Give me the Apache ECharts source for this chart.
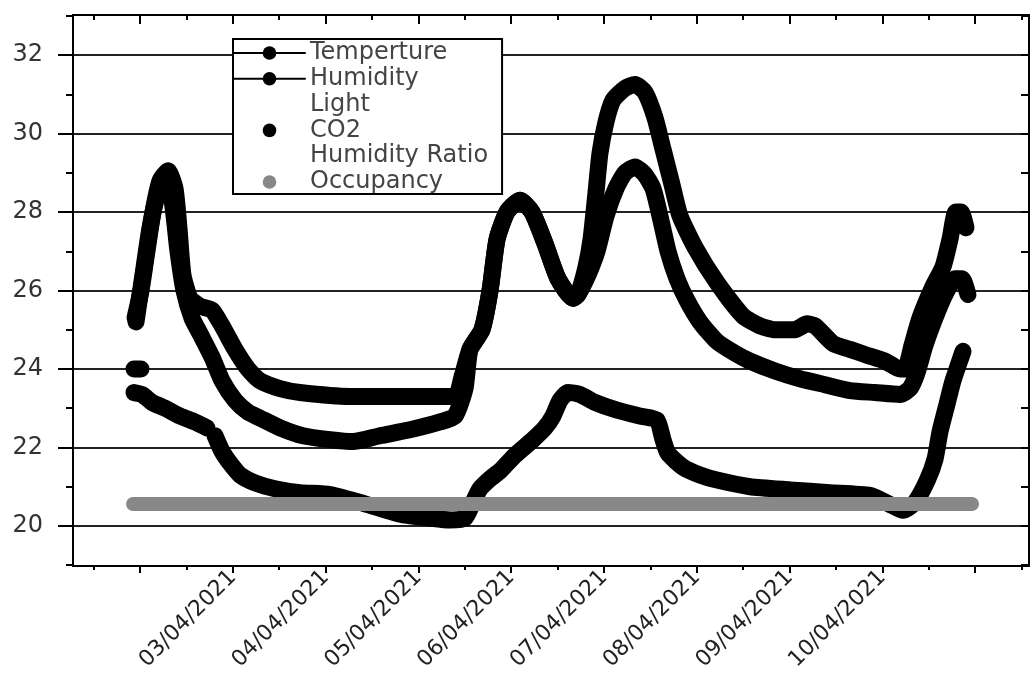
<!DOCTYPE html>
<html>
<head>
<meta charset="utf-8">
<script src="https://cdn.jsdelivr.net/npm/echarts@6/dist/echarts.min.js"></script>
<style>
html,body{margin:0;padding:0;background:#fff;}
#chart{width:1032px;height:681px;}
</style>
</head>
<body>
<div id="chart"></div>
<script>
// x values are days from the first major tick
const xLabels = ['03/04/2021','04/04/2021','05/04/2021','06/04/2021','07/04/2021','08/04/2021','09/04/2021','10/04/2021'];
const xMajorTicks = [0,1,2,3,4,5,6,7,8,9];
const xMinorTicks = [-0.5,0.5,1.5,2.5,3.5,4.5,5.5,6.5,7.5,8.5,9.5];
const xLabelTicks = [1,2,3,4,5,6,7,8];
const yMajorTicks = [20,22,24,26,28,30,32];
const yMinorTicks = [19,21,23,25,27,29,31,33];
const yAllTicks = [19,20,21,22,23,24,25,26,27,28,29,30,31,32,33];

const temperture = [
 [-0.054,25.3],[0.011,26.0],[0.075,27.0],[0.140,28.0],[0.216,28.8],[0.302,29.05],[0.377,28.6],[0.420,27.6],
 [0.463,26.4],[0.539,25.8],[0.647,25.6],[0.776,25.5],[0.884,25.1],[1.024,24.5],[1.164,24.0],[1.293,23.7],
 [1.509,23.5],[1.724,23.4],
 [2.263,23.3],[2.802,23.3],[3.394,23.3],[3.470,23.8],[3.556,24.5],[3.685,25.0],[3.772,26.0],[3.847,27.3],
 [3.955,28.0],[4.095,28.3],[4.224,28.0],[4.364,27.2],[4.504,26.3],[4.666,25.8],[4.720,25.9],[4.806,26.6],
 [4.860,27.3],[4.914,28.5],[4.957,29.5],[5.022,30.3],[5.097,30.85],[5.226,31.15],[5.334,31.25],[5.442,31.05],
 [5.550,30.4],[5.636,29.6],[5.733,28.7],[5.819,27.9],[5.981,27.1],[6.218,26.2],[6.498,25.35],[6.681,25.1],
 [6.843,25.0],[7.058,25.0],[7.188,25.15],[7.274,25.1],[7.468,24.65],[7.651,24.5],[7.834,24.35],[8.028,24.2],
 [8.190,24.0],[8.244,24.0],[8.319,24.6],[8.405,25.3],[8.545,26.1],[8.653,26.6],[8.728,27.3],[8.793,28.0],
 [8.847,28.0],[8.901,27.6]
];
const humidity = [
 [-0.043,25.2],[0.032,26.4],[0.108,27.6],[0.194,28.5],[0.269,28.8],[0.345,28.3],[0.409,27.0],[0.474,26.0],
 [0.560,25.3],[0.647,24.9],
 [0.776,24.3],[0.884,23.7],[1.024,23.2],[1.164,22.9],[1.293,22.75],[1.509,22.5],[1.756,22.3],[2.047,22.2],
 [2.295,22.15],[2.586,22.3],[2.909,22.45],[3.233,22.65],[3.394,22.8],[3.502,23.5],[3.556,24.5],[3.685,25.0],
 [3.772,26.0],[3.847,27.3],[3.955,28.0],[4.095,28.3],[4.224,28.0],[4.364,27.2],[4.504,26.3],[4.666,25.8],
 [4.720,25.9],[4.828,26.4],[4.925,27.0],[5.022,27.9],[5.129,28.6],[5.226,29.0],[5.334,29.15],[5.442,28.95],
 [5.528,28.6],[5.603,27.9],[5.690,27.0],[5.787,26.3],[5.894,25.75],[6.034,25.2],[6.218,24.7],[6.412,24.4],
 [6.573,24.2],[6.843,23.95],[7.112,23.75],[7.381,23.6],[7.651,23.45],[7.920,23.4],[8.190,23.35],[8.297,23.5],
 [8.373,23.9],[8.459,24.6],[8.567,25.3],[8.675,25.9],[8.782,26.3],[8.858,26.3],[8.922,25.9]
];
const light = [];
const co2 = [
 [-0.065,24.0],[0.011,24.0],[0.02,null],
 [-0.065,23.4],[0.022,23.35],[0.129,23.15],[0.269,23.0],[0.431,22.8],[0.593,22.65],[0.722,22.5],[0.76,null],
 [0.808,22.3],[0.884,21.9],[0.970,21.6],[1.078,21.3],[1.239,21.1],[1.455,20.95],[1.724,20.85],[2.047,20.8],
 [2.371,20.6],[2.802,20.3],[3.125,20.2],[3.341,20.15],[3.502,20.2],[3.578,20.55],[3.664,20.95],[3.772,21.2],
 [3.879,21.4],[4.041,21.8],[4.235,22.2],[4.364,22.5],[4.450,22.8],[4.526,23.2],[4.612,23.4],[4.741,23.35],
 [4.903,23.15],[5.140,22.95],[5.388,22.8],[5.571,22.7],[5.636,22.2],[5.690,21.85],[5.851,21.5],[6.034,21.3],
 [6.218,21.17],[6.573,21.0],[7.004,20.92],[7.435,20.85],[7.866,20.78],[8.082,20.55],[8.222,20.4],[8.351,20.6],
 [8.481,21.15],[8.567,21.7],[8.621,22.4],[8.696,23.1],[8.761,23.7],[8.869,24.45]
];
const humidityRatio = [];
const occupancy = [
 [-0.075,20.56],[1,20.56],[2,20.56],[3,20.56],[4,20.56],[5,20.56],[6,20.56],[7,20.56],[8,20.56],[8.966,20.56]
];

const XMIN = -0.722, XMAX = 9.58, YMIN = 18.98, YMAX = 33.02;
const FONT = 'DejaVu Sans';

const chart = echarts.init(document.getElementById('chart'));
const black = '#000';
function xAx(pos, ticks, len, inside, extra) {
  return Object.assign({
    type: 'value', min: XMIN, max: XMAX, position: pos,
    axisLine: {show: true, onZero: false, lineStyle: {color: black, width: 2}},
    axisTick: {show: true, customValues: ticks, length: len, inside: inside, lineStyle: {color: black, width: 2}},
    axisLabel: {show: false},
    splitLine: {show: false}
  }, extra || {});
}
function yAx(pos, ticks, len, inside, extra) {
  return Object.assign({
    type: 'value', min: YMIN, max: YMAX, position: pos,
    axisLine: {show: true, onZero: false, lineStyle: {color: black, width: 2}},
    axisTick: {show: true, customValues: ticks, length: len, inside: inside, lineStyle: {color: black, width: 2}},
    axisLabel: {show: false},
    splitLine: {show: false}
  }, extra || {});
}
const bandStyle = (w, c) => ({width: w, color: c, cap: 'round', join: 'round'});
const SM = 0.2;

chart.setOption({
  animation: false,
  backgroundColor: '#fff',
  grid: {left: 73, right: 3, top: 15, bottom: 115, containLabel: false},
  xAxis: [
    xAx('bottom', xMajorTicks, 7, false, {
      axisLabel: {show: true, customValues: xLabelTicks, rotate: 45, margin: 8,
        fontFamily: FONT, fontSize: 22, color: '#222',
        formatter: v => xLabels[Math.round(v) - 1] || ''}
    }),
    xAx('bottom', xMinorTicks, 4, false),
    xAx('top', xMajorTicks, 9, true),
    xAx('top', xMinorTicks, 5, true)
  ],
  yAxis: [
    yAx('left', yMajorTicks, 15, false, {
      axisLabel: {show: true, customValues: yMajorTicks, margin: 30, fontFamily: FONT, fontSize: 24, color: '#333'},
      splitLine: {show: true, lineStyle: {color: '#222', width: 2}}
    }),
    yAx('left', yMinorTicks, 7, false),
    yAx('right', yAllTicks, 8, true)
  ],
  legend: {
    orient: 'vertical', left: 233, top: 39,
    padding: [2, 14, 0, 0],
    itemWidth: 71, itemHeight: 17, itemGap: 1.8,
    backgroundColor: '#fff', borderColor: '#000', borderWidth: 2,
    selectedMode: false,
    textStyle: {fontFamily: FONT, fontSize: 24, color: '#444'},
    data: [
      {name: 'Temperture', lineStyle: {width: 2, color: '#000'}, itemStyle: {color: '#000'}},
      {name: 'Humidity', lineStyle: {width: 2, color: '#000'}, itemStyle: {color: '#000'}},
      {name: 'Light', lineStyle: {opacity: 0}, itemStyle: {opacity: 0}},
      {name: 'CO2', lineStyle: {opacity: 0}, itemStyle: {color: '#000'}},
      {name: 'Humidity Ratio', lineStyle: {opacity: 0}, itemStyle: {opacity: 0}},
      {name: 'Occupancy', lineStyle: {opacity: 0}, itemStyle: {color: '#888'}}
    ]
  },
  series: [
    {name: 'Temperture', type: 'line', data: temperture, smooth: SM, symbol: 'circle', showSymbol: false, lineStyle: bandStyle(17, '#000'), itemStyle: {color: '#000'}, z: 3},
    {name: 'Humidity', type: 'line', data: humidity, smooth: SM, symbol: 'circle', showSymbol: false, lineStyle: bandStyle(17, '#000'), itemStyle: {color: '#000'}, z: 3},
    {name: 'Light', type: 'line', data: light, symbol: 'none', showSymbol: false, lineStyle: bandStyle(17, '#000'), itemStyle: {color: '#000'}},
    {name: 'CO2', type: 'line', data: co2, smooth: SM, symbol: 'circle', showSymbol: false, connectNulls: false, lineStyle: bandStyle(17, '#000'), itemStyle: {color: '#000'}, z: 3},
    {name: 'Humidity Ratio', type: 'line', data: humidityRatio, symbol: 'none', showSymbol: false, lineStyle: bandStyle(17, '#000'), itemStyle: {color: '#000'}},
    {name: 'Occupancy', type: 'line', data: occupancy, symbol: 'circle', showSymbol: false, lineStyle: bandStyle(14, '#888'), itemStyle: {color: '#888'}, z: 4}
  ]
});
</script>
</body>
</html>
